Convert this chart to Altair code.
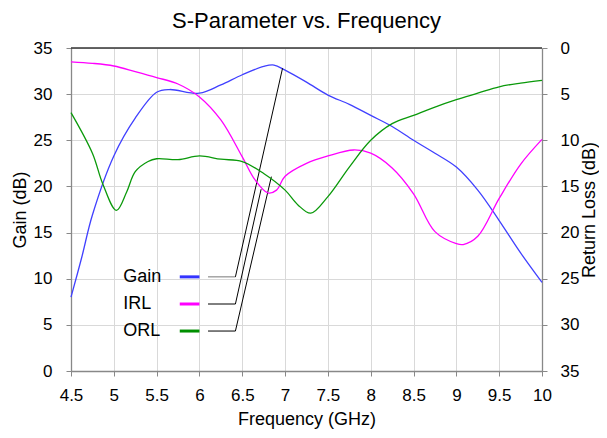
import altair as alt
import pandas as pd

# ---------------- data ----------------
freq_gain = [4.5, 4.625, 4.75, 5.0, 5.25, 5.5, 5.65, 6.0, 6.25, 6.5, 6.75, 6.87, 7.0,
             7.25, 7.5, 7.75, 8.0, 8.25, 8.5, 8.75, 9.0, 9.25, 9.5, 9.75, 10.0]
gain_db = [8.0, 12.3, 16.9, 23.3, 27.4, 30.2, 30.5, 30.1, 31.0, 32.1, 33.0, 33.15, 32.6,
           31.3, 29.9, 28.9, 27.7, 26.5, 25.0, 23.6, 22.1, 19.6, 16.3, 12.8, 9.6]

freq_irl = [4.5, 4.75, 5.0, 5.25, 5.5, 5.75, 6.0, 6.25, 6.5, 6.65, 6.8, 6.9, 7.0,
            7.25, 7.5, 7.8, 8.0, 8.25, 8.5, 8.75, 9.0, 9.08, 9.25, 9.5, 9.75, 10.0]
irl_db = [1.5, 1.66, 1.95, 2.56, 3.2, 3.9, 5.3, 7.8, 11.8, 14.3, 15.7, 15.4, 13.9,
          12.5, 11.7, 11.05, 11.4, 13.0, 15.8, 19.9, 21.2, 21.3, 20.4, 16.3, 12.6, 9.9]

freq_orl = [4.5, 4.75, 4.87, 5.03, 5.15, 5.25, 5.4, 5.5, 5.75, 6.0, 6.25, 6.5, 6.75, 7.0,
            7.15, 7.3, 7.5, 7.75, 8.0, 8.25, 8.5, 8.75, 9.0, 9.25, 9.5, 9.75, 10.0]
orl_db = [7.0, 11.4, 14.7, 17.6, 15.6, 13.4, 12.3, 12.0, 12.1, 11.7, 12.05, 12.3, 13.6, 15.4,
          17.0, 17.9, 16.1, 12.9, 10.0, 8.2, 7.3, 6.4, 5.6, 4.9, 4.2, 3.8, 3.5]

series_names = ["Gain", "IRL", "ORL"]
series_colors = ["#4040ff", "#ff00ff", "#0a990a"]
swatch_colors = ["#3333ff", "#ff00ff", "#008f00"]

# call-out (leader line) targets, in gain-axis units
leader_target_f = [6.97, 6.72, 6.84]
leader_target_v = [32.8, 19.7, 21.06]

x_ticks = [4.5, 5, 5.5, 6, 6.5, 7, 7.5, 8, 8.5, 9, 9.5, 10]
y_ticks = [0, 5, 10, 15, 20, 25, 30, 35]

# legend layout (in data units of the gain axis)
legend_rows_v = [10.2, 7.26, 4.33]
legend_text_f = 5.11
swatch_f = (5.77, 6.0)
leader_h_f = (6.1, 6.42)

W, H = 471, 323
FONT = "Liberation Sans"
GRID = "#d9d9d9"
AX = "#888888"
INTERP = "catmull-rom"

xscale = alt.Scale(domain=[4.5, 10], nice=False, zero=False)
x_enc = alt.X("f:Q", scale=xscale,
              axis=alt.Axis(values=x_ticks, format=".1~f", title="Frequency (GHz)",
                            grid=True, gridColor=GRID, gridWidth=1, labelFlush=False,
                            domainColor=AX, domainWidth=1.3, tickColor=AX, tickSize=5,
                            labelFont=FONT, labelFontSize=17, labelColor="black",
                            labelPadding=11, titleFont=FONT, titleFontSize=18,
                            titleFontWeight="normal", titleColor="black",
                            titleBaseline="alphabetic", titleY=53))
gscale = alt.Scale(domain=[0, 35], nice=False, zero=False)
y_enc = alt.Y("v:Q", scale=gscale,
              axis=alt.Axis(values=y_ticks, title="Gain (dB)", grid=True, gridColor=GRID,
                            gridWidth=1, domainColor=AX, domainWidth=1.3, tickColor=AX,
                            tickSize=5, labelFont=FONT, labelFontSize=17, labelColor="black",
                            labelPadding=14, titleFont=FONT, titleFontSize=18,
                            titleFontWeight="normal", titleColor="black", titlePadding=4))

gain_df = pd.DataFrame({"f": freq_gain, "v": gain_db})
gain_line = alt.Chart(gain_df).mark_line(
    color=series_colors[0], strokeWidth=1.3, interpolate=INTERP
).encode(x=x_enc, y=y_enc)

# legend annotation
leg_df = pd.DataFrame({
    "name": series_names,
    "v": legend_rows_v,
    "f": [legend_text_f] * 3,
    "s0": [swatch_f[0]] * 3,
    "s1": [swatch_f[1]] * 3,
    "h0": [leader_h_f[0]] * 3,
    "h1": [leader_h_f[1]] * 3,
    "tf": leader_target_f,
    "tv": leader_target_v,
    "hc": ["#777777", "black", "black"],
})
leg_text = alt.Chart(leg_df).mark_text(
    align="left", baseline="middle", font=FONT, fontSize=18, color="black"
).encode(x=x_enc, y=y_enc, text="name:N")
leg_swatch = alt.Chart(leg_df).mark_rule(strokeWidth=3).encode(
    x=alt.X("s0:Q", scale=xscale), x2="s1:Q", y=alt.Y("v:Q", scale=gscale),
    color=alt.Color("name:N", scale=alt.Scale(domain=series_names, range=swatch_colors),
                    legend=None))
leg_h = alt.Chart(leg_df).mark_rule(strokeWidth=1).encode(
    x=alt.X("h0:Q", scale=xscale), x2="h1:Q", y=alt.Y("v:Q", scale=gscale),
    color=alt.Color("hc:N", scale=None))
leg_d = alt.Chart(leg_df).mark_rule(strokeWidth=1, color="black").encode(
    x=alt.X("h1:Q", scale=xscale), x2="tf:Q", y=alt.Y("v:Q", scale=gscale), y2="tv:Q")

top_border = alt.Chart(pd.DataFrame({"a": [0]})).mark_rule(
    color="#333333", strokeWidth=1.3
).encode(x=alt.value(0), x2=alt.value(W), y=alt.value(0))

rl_df = pd.concat([
    pd.DataFrame({"f": freq_irl, "rl": irl_db, "s": "IRL"}),
    pd.DataFrame({"f": freq_orl, "rl": orl_db, "s": "ORL"}),
])
rl_lines = alt.Chart(rl_df).mark_line(strokeWidth=1.3, interpolate=INTERP).encode(
    x=x_enc,
    y=alt.Y("rl:Q", scale=alt.Scale(domain=[0, 35], reverse=True, nice=False, zero=False),
            axis=alt.Axis(orient="right", values=y_ticks, title="Return Loss (dB)",
                          grid=False, domainColor=AX, domainWidth=1.3, tickColor=AX,
                          tickSize=5, labelFont=FONT, labelFontSize=17, labelColor="black",
                          labelPadding=13, titleFont=FONT, titleFontSize=18,
                          titleFontWeight="normal", titleColor="black", titlePadding=2,
                          titleAngle=270, titleBaseline="top")),
    color=alt.Color("s:N", scale=alt.Scale(domain=series_names[1:], range=series_colors[1:]),
                    legend=None),
    detail="s:N",
)

left_group = alt.layer(gain_line, leg_swatch, leg_h, leg_d, leg_text)
chart = alt.layer(left_group, rl_lines, top_border).resolve_scale(
    y="independent", color="independent"
).properties(
    width=W, height=H,
    title=alt.Title("S-Parameter vs. Frequency", font=FONT, fontSize=22,
                    fontWeight="normal", color="black", anchor="middle", offset=6),
    autosize=alt.AutoSizeParams(type="none"),
    padding={"left": 63, "top": 40, "right": 57, "bottom": 59},
).configure_view(stroke=None).configure(background="white")

chart.save("out.html", embed_options={"renderer": "svg", "actions": False})
